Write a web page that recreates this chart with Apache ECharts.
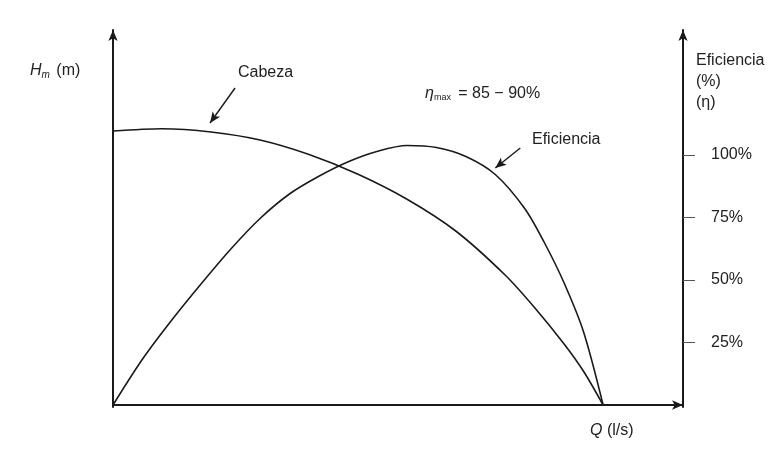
<!DOCTYPE html>
<html>
<head>
<meta charset="utf-8">
<script src="https://cdn.jsdelivr.net/npm/echarts@6/dist/echarts.min.js"></script>
<style>
html,body{margin:0;padding:0;background:#fff;}
#c{width:782px;height:452px;}
</style>
</head>
<body>
<div id="c"></div>
<script>
// Q (arbitrary units, shutoff flow = 100)
var headQ   = [0, 10, 20, 30, 40, 50, 60, 70, 80, 86, 92, 96, 100];
var headVal = [109.6, 110.5, 109.2, 106, 100.2, 92.3, 82.3, 69.5, 52, 39, 24.5, 13.5, 0];
var effQ    = [0, 6, 12, 18, 24, 30, 36, 42, 48, 54, 60, 66, 72, 78, 84, 88, 92, 96, 100];
var effVal  = [0, 18.3, 34, 48.5, 62.3, 74.6, 84.4, 91.5, 97.3, 101.5, 103.8, 103, 99.4, 92.2, 78.6, 65, 49, 29.3, 0];
var effTicks = [25, 50, 75, 100];
var effTickLabels = ['25%', '50%', '75%', '100%'];
// annotation arrows [fromQ, fromY, toQ, toY]
var arrowCabeza = [24.9, 126.8, 19.8, 112.8];
var arrowEfic   = [83.1, 102.8, 78.0, 94.8];

function pairs(xs, ys){ return xs.map(function(x,i){ return [x, ys[i]]; }); }

var chart = echarts.init(document.getElementById('c'));
var ink = '#1a1a1a';
var font = 'Liberation Sans, Arial, sans-serif';
var arrowLine = function(a){
  return [{coord:[a[0],a[1]]},{coord:[a[2],a[3]]}];
};
chart.setOption({
  animation:false,
  backgroundColor:'#fff',
  grid:{left:113, right:99, top:30, bottom:45},
  xAxis:{
    type:'value', min:0, max:116.3,
    axisLine:{show:true, lineStyle:{color:ink, width:2}, symbol:['none','arrow'], symbolSize:[7,11]},
    axisTick:{show:false}, axisLabel:{show:false}, splitLine:{show:false}
  },
  yAxis:[{
    type:'value', min:-0.8, max:150, position:'left',
    axisLine:{show:true, onZero:false, lineStyle:{color:ink, width:2}, symbol:['none','arrow'], symbolSize:[7,11]},
    axisTick:{show:false}, axisLabel:{show:false}, splitLine:{show:false}
  },{
    type:'value', min:-0.8, max:150, position:'right',
    axisLine:{show:true, onZero:false, lineStyle:{color:ink, width:2}, symbol:['none','arrow'], symbolSize:[7,11]},
    axisTick:{show:true, length:12, inside:false, customValues:effTicks, lineStyle:{color:'#555', width:1}},
    axisLabel:{show:true, margin:28, customValues:effTicks,
      formatter:function(v){ var i = effTicks.indexOf(v); return i>=0 ? effTickLabels[i] : ''; },
      color:'#222', fontSize:16, fontFamily:font},
    splitLine:{show:false}
  }],
  series:[{
    name:'Cabeza', type:'line', yAxisIndex:0, data:pairs(headQ, headVal),
    smooth:0.3, showSymbol:false, lineStyle:{color:ink, width:1.6},
    markLine:{silent:true, symbol:['none','arrow'], symbolSize:[7,11],
      lineStyle:{color:ink, width:1.4, type:'solid'}, label:{show:false},
      data:[arrowLine(arrowCabeza)]}
  },{
    name:'Eficiencia', type:'line', yAxisIndex:1, data:pairs(effQ, effVal),
    smooth:0.3, showSymbol:false, lineStyle:{color:ink, width:1.6},
    markLine:{silent:true, symbol:['none','arrow'], symbolSize:[7,11],
      lineStyle:{color:ink, width:1.4, type:'solid'}, label:{show:false},
      data:[arrowLine(arrowEfic)]}
  }],
  graphic:[
    {type:'text', left:30, top:63, style:{
      text:'{i|H}{s|m} (m)', font:'16px '+font, fill:'#222',
      rich:{i:{fontStyle:'italic', fontSize:16, fontFamily:font, fill:'#222'},
            s:{fontStyle:'italic', fontSize:10, fontFamily:font, fill:'#222', verticalAlign:'bottom', padding:[8,2,0,0]}}
    }},
    {type:'text', left:238, top:65, style:{text:'Cabeza', font:'16px '+font, fill:'#222'}},
    {type:'text', left:425, top:86, style:{
      text:'{i|η}{s|max} = 85 − 90%', font:'16px '+font, fill:'#222',
      rich:{i:{fontStyle:'italic', fontSize:16, fontFamily:font, fill:'#222'},
            s:{fontSize:9, fontFamily:font, fill:'#222', verticalAlign:'bottom', padding:[8,3,0,0]}}
    }},
    {type:'text', left:532, top:132, style:{text:'Eficiencia', font:'16px '+font, fill:'#222'}},
    {type:'text', left:696, top:50, style:{text:'Eficiencia\n(%)\n(η)', font:'16px '+font, fill:'#222', lineHeight:21}},
    {type:'text', left:590, top:423, style:{
      text:'{i|Q} (l/s)', font:'16px '+font, fill:'#222',
      rich:{i:{fontStyle:'italic', fontSize:16, fontFamily:font, fill:'#222'}}
    }}
  ]
});
</script>
</body>
</html>
